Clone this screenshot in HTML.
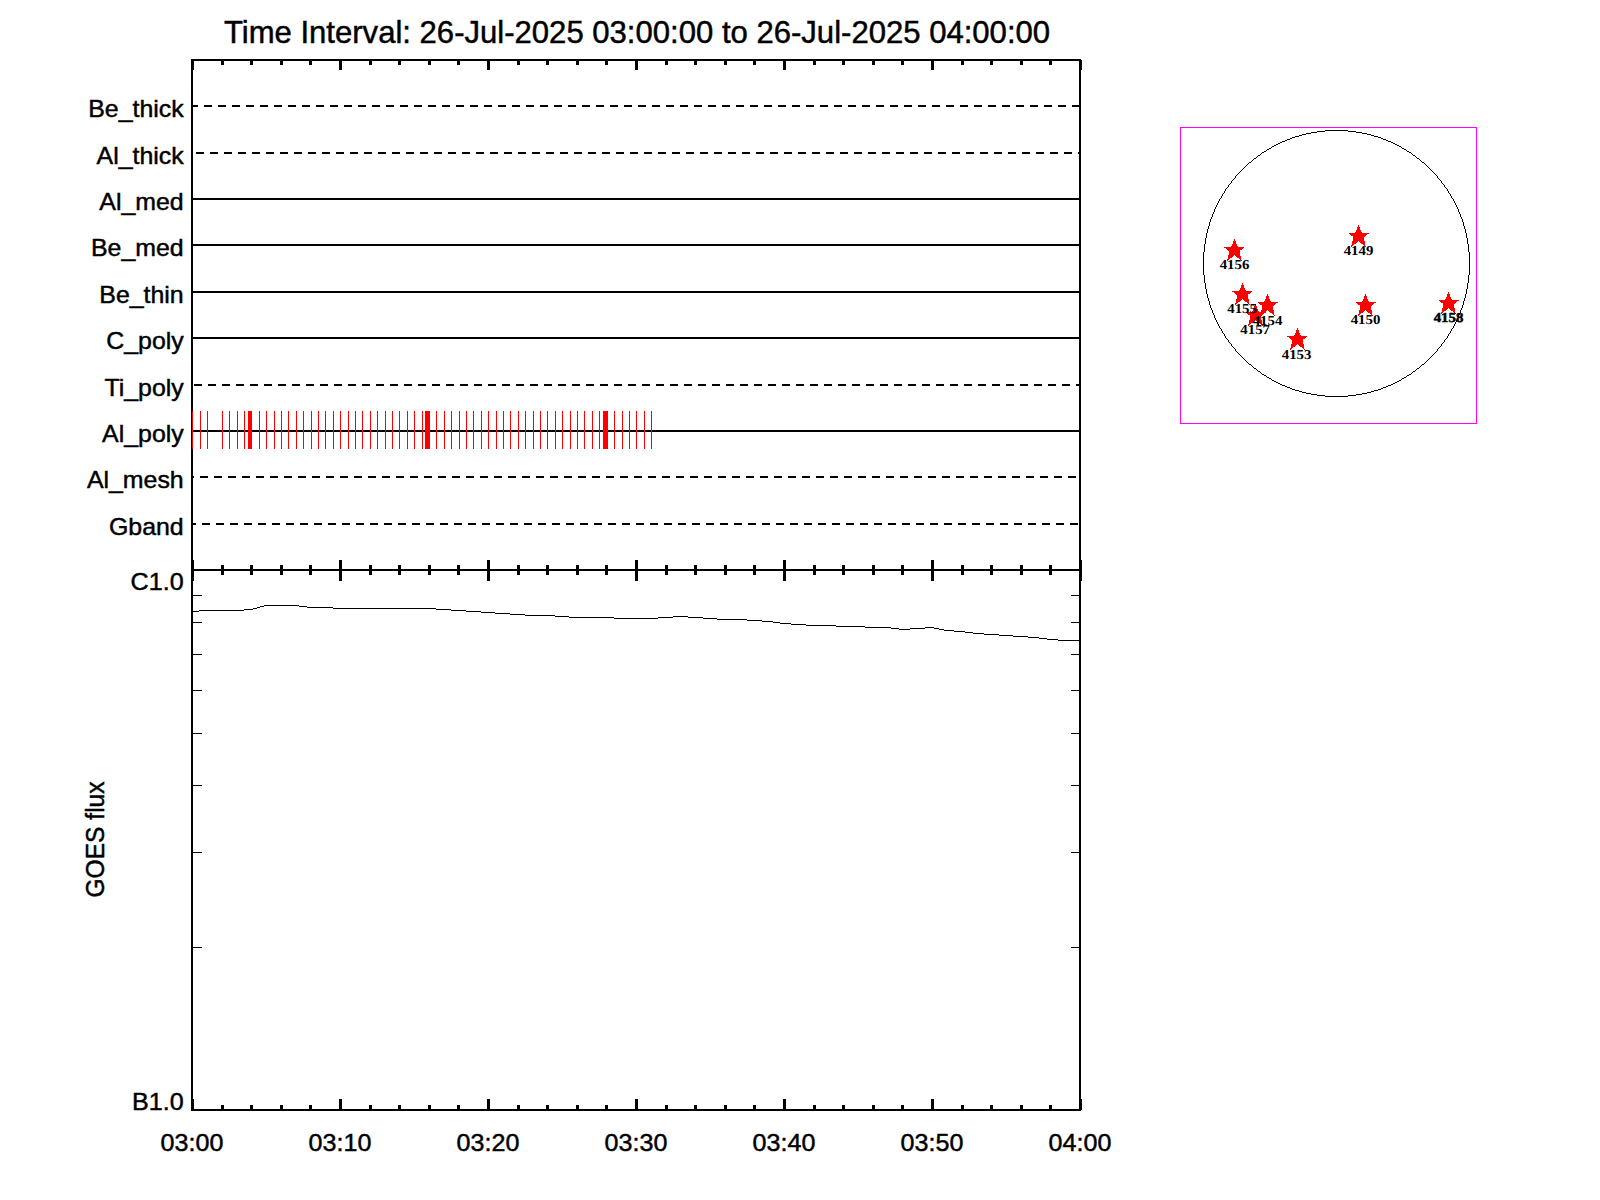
<!DOCTYPE html>
<html><head><meta charset="utf-8"><title>Time Interval</title>
<style>
html,body{margin:0;padding:0;background:#fff;}
body{width:1600px;height:1200px;overflow:hidden;}
svg{display:block;}
text{font-family:"Liberation Sans",sans-serif;fill:#000;}
.lab{font-size:23.8px;stroke:#000;stroke-width:0.45px;}
.ar{font-family:"Liberation Serif",serif;font-weight:bold;font-size:12.7px;text-rendering:geometricPrecision;}
</style></head><body>
<svg width="1600" height="1200" viewBox="0 0 1600 1200">
<rect width="1600" height="1200" fill="#fff"/>
<text transform="translate(637,43) scale(1.019,1)" text-anchor="middle" font-size="30.5" stroke="#000" stroke-width="0.45">Time Interval: 26-Jul-2025 03:00:00 to 26-Jul-2025 04:00:00</text>
<g shape-rendering="crispEdges" stroke="#000" stroke-width="2" fill="none">
<line x1="192" y1="106" x2="1080" y2="106" stroke-dasharray="8 6" stroke-dashoffset="2"/>
<line x1="192" y1="153" x2="1080" y2="153" stroke-dasharray="8 6" stroke-dashoffset="10"/>
<line x1="192" y1="199" x2="1080" y2="199"/>
<line x1="192" y1="245" x2="1080" y2="245"/>
<line x1="192" y1="292" x2="1080" y2="292"/>
<line x1="192" y1="338" x2="1080" y2="338"/>
<line x1="192" y1="385" x2="1080" y2="385" stroke-dasharray="8 6" stroke-dashoffset="12"/>
<line x1="192" y1="431" x2="1080" y2="431"/>
<line x1="192" y1="477" x2="1080" y2="477" stroke-dasharray="8 6" stroke-dashoffset="6"/>
<line x1="192" y1="524" x2="1080" y2="524" stroke-dasharray="8 6" stroke-dashoffset="4"/>
<rect x="192" y="60" width="888" height="510"/>
<rect x="192" y="570" width="888" height="540"/>
<path stroke-width="3" d="M192.5 60V70M192.5 560V581M192.5 1110V1099M222.5 60V65M222.5 565V575M222.5 1110V1105M251.5 60V65M251.5 565V575M251.5 1110V1105M281.5 60V65M281.5 565V575M281.5 1110V1105M310.5 60V65M310.5 565V575M310.5 1110V1105M340.5 60V70M340.5 560V581M340.5 1110V1099M370.5 60V65M370.5 565V575M370.5 1110V1105M399.5 60V65M399.5 565V575M399.5 1110V1105M429.5 60V65M429.5 565V575M429.5 1110V1105M458.5 60V65M458.5 565V575M458.5 1110V1105M488.5 60V70M488.5 560V581M488.5 1110V1099M518.5 60V65M518.5 565V575M518.5 1110V1105M547.5 60V65M547.5 565V575M547.5 1110V1105M577.5 60V65M577.5 565V575M577.5 1110V1105M606.5 60V65M606.5 565V575M606.5 1110V1105M636.5 60V70M636.5 560V581M636.5 1110V1099M666.5 60V65M666.5 565V575M666.5 1110V1105M695.5 60V65M695.5 565V575M695.5 1110V1105M725.5 60V65M725.5 565V575M725.5 1110V1105M754.5 60V65M754.5 565V575M754.5 1110V1105M784.5 60V70M784.5 560V581M784.5 1110V1099M814.5 60V65M814.5 565V575M814.5 1110V1105M843.5 60V65M843.5 565V575M843.5 1110V1105M873.5 60V65M873.5 565V575M873.5 1110V1105M902.5 60V65M902.5 565V575M902.5 1110V1105M932.5 60V70M932.5 560V581M932.5 1110V1099M962.5 60V65M962.5 565V575M962.5 1110V1105M991.5 60V65M991.5 565V575M991.5 1110V1105M1021.5 60V65M1021.5 565V575M1021.5 1110V1105M1050.5 60V65M1050.5 565V575M1050.5 1110V1105M1080.5 60V70M1080.5 560V581M1080.5 1110V1099"/>
</g>
<path shape-rendering="crispEdges" stroke="#000" stroke-width="1" fill="none" d="M193 947.5H202M1071 947.5H1079M193 852.5H202M1071 852.5H1079M193 785.5H202M1071 785.5H1079M193 733.5H202M1071 733.5H1079M193 690.5H202M1071 690.5H1079M193 654.5H202M1071 654.5H1079M193 622.5H202M1071 622.5H1079M193 595.5H202M1071 595.5H1079"/>
<path shape-rendering="crispEdges" fill="#000" d="M193 611h6v1h-6zM199 610h45v1h-45zM244 609h9v1h-9zM253 608h4v1h-4zM257 607h3v1h-3zM260 606h4v1h-4zM264 605h35v1h-35zM299 606h8v1h-8zM307 607h26v1h-26zM333 608h103v1h-103zM436 609h15v1h-15zM451 610h15v1h-15zM466 611h15v1h-15zM481 612h14v1h-14zM495 613h15v1h-15zM510 614h15v1h-15zM525 615h30v1h-30zM555 616h14v1h-14zM569 617h45v1h-45zM614 618h44v1h-44zM658 617h15v1h-15zM673 616h15v1h-15zM688 617h15v1h-15zM703 618h14v1h-14zM717 619h30v1h-30zM747 620h15v1h-15zM762 621h11v1h-11zM773 622h7v1h-7zM780 623h11v1h-11zM791 624h15v1h-15zM806 625h30v1h-30zM836 626h29v1h-29zM865 627h26v1h-26zM891 628h8v1h-8zM899 629h11v1h-11zM910 628h15v1h-15zM925 627h9v1h-9zM934 628h5v1h-5zM939 629h5v1h-5zM944 630h10v1h-10zM954 631h11v1h-11zM965 632h8v1h-8zM973 633h11v1h-11zM984 634h15v1h-15zM999 635h14v1h-14zM1013 636h15v1h-15zM1028 637h11v1h-11zM1039 638h8v1h-8zM1047 639h11v1h-11zM1058 640h21v1h-21z"/>
<path shape-rendering="crispEdges" stroke="#f00" stroke-width="1" fill="none" d="M192.5 411V449M200.5 411V449M207.5 411V449M222.5 411V449M229.5 411V449M237.5 411V449M244.5 411V449M259.5 411V449M266.5 411V449M274.5 411V449M281.5 411V449M288.5 411V449M296.5 411V449M303.5 411V449M311.5 411V449M318.5 411V449M325.5 411V449M333.5 411V449M340.5 411V449M348.5 411V449M355.5 411V449M362.5 411V449M370.5 411V449M377.5 411V449M385.5 411V449M392.5 411V449M399.5 411V449M407.5 411V449M414.5 411V449M422.5 411V449M436.5 411V449M444.5 411V449M451.5 411V449M459.5 411V449M466.5 411V449M473.5 411V449M481.5 411V449M488.5 411V449M496.5 411V449M503.5 411V449M510.5 411V449M518.5 411V449M525.5 411V449M533.5 411V449M540.5 411V449M547.5 411V449M555.5 411V449M562.5 411V449M570.5 411V449M577.5 411V449M584.5 411V449M592.5 411V449M599.5 411V449M614.5 411V449M622.5 411V449M629.5 411V449M636.5 411V449M644.5 411V449M651.5 411V449"/>
<rect shape-rendering="crispEdges" x="248" y="411" width="4" height="38" fill="#f00"/>
<rect shape-rendering="crispEdges" x="425" y="411" width="5" height="38" fill="#f00"/>
<rect shape-rendering="crispEdges" x="603" y="411" width="5" height="38" fill="#f00"/>
<text class="lab" transform="translate(183.7,116.7) scale(1.046,1)" text-anchor="end">Be_thick</text>
<text class="lab" transform="translate(183.7,163.7) scale(1.046,1)" text-anchor="end">Al_thick</text>
<text class="lab" transform="translate(183.7,209.7) scale(1.046,1)" text-anchor="end">Al_med</text>
<text class="lab" transform="translate(183.7,255.7) scale(1.046,1)" text-anchor="end">Be_med</text>
<text class="lab" transform="translate(183.7,302.7) scale(1.046,1)" text-anchor="end">Be_thin</text>
<text class="lab" transform="translate(183.7,348.7) scale(1.046,1)" text-anchor="end">C_poly</text>
<text class="lab" transform="translate(183.7,395.7) scale(1.046,1)" text-anchor="end">Ti_poly</text>
<text class="lab" transform="translate(183.7,441.7) scale(1.046,1)" text-anchor="end">Al_poly</text>
<text class="lab" transform="translate(183.7,487.7) scale(1.046,1)" text-anchor="end">Al_mesh</text>
<text class="lab" transform="translate(183.7,534.7) scale(1.046,1)" text-anchor="end">Gband</text>
<text class="lab" transform="translate(183.6,589.7) scale(1.055,1)" text-anchor="end">C1.0</text>
<text class="lab" transform="translate(183.6,1110.3) scale(1.055,1)" text-anchor="end">B1.0</text>
<text class="lab" transform="translate(192,1150.7) scale(1.055,1)" text-anchor="middle">03:00</text>
<text class="lab" transform="translate(340,1150.7) scale(1.055,1)" text-anchor="middle">03:10</text>
<text class="lab" transform="translate(488,1150.7) scale(1.055,1)" text-anchor="middle">03:20</text>
<text class="lab" transform="translate(636,1150.7) scale(1.055,1)" text-anchor="middle">03:30</text>
<text class="lab" transform="translate(784,1150.7) scale(1.055,1)" text-anchor="middle">03:40</text>
<text class="lab" transform="translate(932,1150.7) scale(1.055,1)" text-anchor="middle">03:50</text>
<text class="lab" transform="translate(1080,1150.7) scale(1.055,1)" text-anchor="middle">04:00</text>
<text class="lab" transform="translate(103.8,839.5) rotate(-90) scale(1.033,1.09)" text-anchor="middle">GOES flux</text>
<rect shape-rendering="crispEdges" x="1180.5" y="127.5" width="296" height="296" fill="none" stroke="#f0f" stroke-width="1"/>
<path shape-rendering="crispEdges" fill="#000" d="M1325 130h23v1h-23zM1317 131h8v1h-8zM1348 131h8v1h-8zM1311 132h6v1h-6zM1356 132h6v1h-6zM1306 133h5v1h-5zM1362 133h5v1h-5zM1302 134h4v1h-4zM1367 134h4v1h-4zM1299 135h3v1h-3zM1371 135h3v1h-3zM1295 136h4v1h-4zM1374 136h4v1h-4zM1292 137h3v1h-3zM1378 137h3v1h-3zM1290 138h2v1h-2zM1381 138h2v1h-2zM1287 139h3v1h-3zM1383 139h3v1h-3zM1285 140h2v1h-2zM1386 140h2v1h-2zM1282 141h3v1h-3zM1388 141h3v1h-3zM1280 142h2v1h-2zM1391 142h2v1h-2zM1278 143h2v1h-2zM1393 143h2v1h-2zM1276 144h2v1h-2zM1395 144h2v1h-2zM1274 145h2v1h-2zM1397 145h2v1h-2zM1272 146h2v1h-2zM1399 146h2v1h-2zM1271 147h1v1h-1zM1401 147h1v1h-1zM1269 148h2v1h-2zM1402 148h2v1h-2zM1267 149h2v1h-2zM1404 149h2v1h-2zM1266 150h1v1h-1zM1406 150h1v1h-1zM1264 151h2v1h-2zM1407 151h2v1h-2zM1262 152h2v1h-2zM1409 152h2v1h-2zM1261 153h1v1h-1zM1411 153h1v1h-1zM1260 154h1v1h-1zM1412 154h1v1h-1zM1258 155h2v1h-2zM1413 155h2v1h-2zM1257 156h1v1h-1zM1415 156h1v1h-1zM1256 157h1v1h-1zM1416 157h1v1h-1zM1254 158h2v1h-2zM1417 158h2v1h-2zM1253 159h1v1h-1zM1419 159h1v1h-1zM1252 160h1v1h-1zM1420 160h1v1h-1zM1251 161h1v1h-1zM1421 161h1v1h-1zM1249 162h2v1h-2zM1422 162h2v1h-2zM1248 163h1v1h-1zM1424 163h1v1h-1zM1247 164h1v1h-1zM1425 164h1v1h-1zM1246 165h1v1h-1zM1426 165h1v1h-1zM1245 166h1v1h-1zM1427 166h1v1h-1zM1244 167h1v1h-1zM1428 167h1v1h-1zM1243 168h1v1h-1zM1429 168h1v1h-1zM1242 169h1v1h-1zM1430 169h1v1h-1zM1241 170h1v1h-1zM1431 170h1v1h-1zM1240 171h1v1h-1zM1432 171h1v1h-1zM1239 172h1v1h-1zM1433 172h1v1h-1zM1238 173h1v1h-1zM1434 173h1v1h-1zM1237 174h1v1h-1zM1435 174h1v1h-1zM1236 175h1v1h-1zM1436 175h1v1h-1zM1235 176h1v1h-1zM1437 176h1v1h-1zM1235 177h1v1h-1zM1437 177h1v1h-1zM1234 178h1v1h-1zM1438 178h1v1h-1zM1233 179h1v1h-1zM1439 179h1v1h-1zM1232 180h1v1h-1zM1440 180h1v1h-1zM1231 181h1v1h-1zM1441 181h1v1h-1zM1231 182h1v1h-1zM1441 182h1v1h-1zM1230 183h1v1h-1zM1442 183h1v1h-1zM1229 184h1v1h-1zM1443 184h1v1h-1zM1228 185h1v1h-1zM1444 185h1v1h-1zM1228 186h1v1h-1zM1444 186h1v1h-1zM1227 187h1v1h-1zM1445 187h1v1h-1zM1226 188h1v1h-1zM1446 188h1v1h-1zM1225 189h1v1h-1zM1447 189h1v1h-1zM1225 190h1v1h-1zM1447 190h1v1h-1zM1224 191h1v1h-1zM1448 191h1v1h-1zM1224 192h1v1h-1zM1448 192h1v1h-1zM1223 193h1v1h-1zM1449 193h1v1h-1zM1222 194h1v1h-1zM1450 194h1v1h-1zM1222 195h1v1h-1zM1450 195h1v1h-1zM1221 196h1v1h-1zM1451 196h1v1h-1zM1221 197h1v1h-1zM1451 197h1v1h-1zM1220 198h1v1h-1zM1452 198h1v1h-1zM1219 199h1v1h-1zM1453 199h1v1h-1zM1219 200h1v1h-1zM1453 200h1v1h-1zM1218 201h1v1h-1zM1454 201h1v1h-1zM1218 202h1v1h-1zM1454 202h1v1h-1zM1217 203h1v1h-1zM1455 203h1v1h-1zM1217 204h1v1h-1zM1455 204h1v1h-1zM1216 205h1v1h-1zM1456 205h1v1h-1zM1216 206h1v1h-1zM1456 206h1v1h-1zM1215 207h1v1h-1zM1457 207h1v1h-1zM1215 208h1v1h-1zM1457 208h1v1h-1zM1214 209h1v1h-1zM1458 209h1v1h-1zM1214 210h1v1h-1zM1458 210h1v1h-1zM1214 211h1v1h-1zM1458 211h1v1h-1zM1213 212h1v1h-1zM1459 212h1v1h-1zM1213 213h1v1h-1zM1459 213h1v1h-1zM1212 214h1v1h-1zM1460 214h1v1h-1zM1212 215h1v1h-1zM1460 215h1v1h-1zM1212 216h1v1h-1zM1460 216h1v1h-1zM1211 217h1v1h-1zM1461 217h1v1h-1zM1211 218h1v1h-1zM1461 218h1v1h-1zM1210 219h1v1h-1zM1462 219h1v1h-1zM1210 220h1v1h-1zM1462 220h1v1h-1zM1210 221h1v1h-1zM1462 221h1v1h-1zM1209 222h1v1h-1zM1463 222h1v1h-1zM1209 223h1v1h-1zM1463 223h1v1h-1zM1209 224h1v1h-1zM1463 224h1v1h-1zM1209 225h1v1h-1zM1463 225h1v1h-1zM1208 226h1v1h-1zM1464 226h1v1h-1zM1208 227h1v1h-1zM1464 227h1v1h-1zM1208 228h1v1h-1zM1464 228h1v1h-1zM1207 229h1v1h-1zM1465 229h1v1h-1zM1207 230h1v1h-1zM1465 230h1v1h-1zM1207 231h1v1h-1zM1465 231h1v1h-1zM1207 232h1v1h-1zM1465 232h1v1h-1zM1206 233h1v1h-1zM1466 233h1v1h-1zM1206 234h1v1h-1zM1466 234h1v1h-1zM1206 235h1v1h-1zM1466 235h1v1h-1zM1206 236h1v1h-1zM1466 236h1v1h-1zM1206 237h1v1h-1zM1466 237h1v1h-1zM1205 238h1v1h-1zM1467 238h1v1h-1zM1205 239h1v1h-1zM1467 239h1v1h-1zM1205 240h1v1h-1zM1467 240h1v1h-1zM1205 241h1v1h-1zM1467 241h1v1h-1zM1205 242h1v1h-1zM1467 242h1v1h-1zM1205 243h1v1h-1zM1467 243h1v1h-1zM1204 244h1v1h-1zM1468 244h1v1h-1zM1204 245h1v1h-1zM1468 245h1v1h-1zM1204 246h1v1h-1zM1468 246h1v1h-1zM1204 247h1v1h-1zM1468 247h1v1h-1zM1204 248h1v1h-1zM1468 248h1v1h-1zM1204 249h1v1h-1zM1468 249h1v1h-1zM1204 250h1v1h-1zM1468 250h1v1h-1zM1204 251h1v1h-1zM1468 251h1v1h-1zM1203 252h1v1h-1zM1469 252h1v1h-1zM1203 253h1v1h-1zM1469 253h1v1h-1zM1203 254h1v1h-1zM1469 254h1v1h-1zM1203 255h1v1h-1zM1469 255h1v1h-1zM1203 256h1v1h-1zM1469 256h1v1h-1zM1203 257h1v1h-1zM1469 257h1v1h-1zM1203 258h1v1h-1zM1469 258h1v1h-1zM1203 259h1v1h-1zM1469 259h1v1h-1zM1203 260h1v1h-1zM1469 260h1v1h-1zM1203 261h1v1h-1zM1469 261h1v1h-1zM1203 262h1v1h-1zM1469 262h1v1h-1zM1203 263h1v1h-1zM1469 263h1v1h-1zM1203 264h1v1h-1zM1469 264h1v1h-1zM1203 265h1v1h-1zM1469 265h1v1h-1zM1203 266h1v1h-1zM1469 266h1v1h-1zM1203 267h1v1h-1zM1469 267h1v1h-1zM1203 268h1v1h-1zM1469 268h1v1h-1zM1203 269h1v1h-1zM1469 269h1v1h-1zM1203 270h1v1h-1zM1469 270h1v1h-1zM1203 271h1v1h-1zM1469 271h1v1h-1zM1203 272h1v1h-1zM1469 272h1v1h-1zM1203 273h1v1h-1zM1469 273h1v1h-1zM1203 274h1v1h-1zM1469 274h1v1h-1zM1204 275h1v1h-1zM1468 275h1v1h-1zM1204 276h1v1h-1zM1468 276h1v1h-1zM1204 277h1v1h-1zM1468 277h1v1h-1zM1204 278h1v1h-1zM1468 278h1v1h-1zM1204 279h1v1h-1zM1468 279h1v1h-1zM1204 280h1v1h-1zM1468 280h1v1h-1zM1204 281h1v1h-1zM1468 281h1v1h-1zM1204 282h1v1h-1zM1468 282h1v1h-1zM1205 283h1v1h-1zM1467 283h1v1h-1zM1205 284h1v1h-1zM1467 284h1v1h-1zM1205 285h1v1h-1zM1467 285h1v1h-1zM1205 286h1v1h-1zM1467 286h1v1h-1zM1205 287h1v1h-1zM1467 287h1v1h-1zM1205 288h1v1h-1zM1467 288h1v1h-1zM1206 289h1v1h-1zM1466 289h1v1h-1zM1206 290h1v1h-1zM1466 290h1v1h-1zM1206 291h1v1h-1zM1466 291h1v1h-1zM1206 292h1v1h-1zM1466 292h1v1h-1zM1206 293h1v1h-1zM1466 293h1v1h-1zM1207 294h1v1h-1zM1465 294h1v1h-1zM1207 295h1v1h-1zM1465 295h1v1h-1zM1207 296h1v1h-1zM1465 296h1v1h-1zM1207 297h1v1h-1zM1465 297h1v1h-1zM1208 298h1v1h-1zM1464 298h1v1h-1zM1208 299h1v1h-1zM1464 299h1v1h-1zM1208 300h1v1h-1zM1464 300h1v1h-1zM1209 301h1v1h-1zM1463 301h1v1h-1zM1209 302h1v1h-1zM1463 302h1v1h-1zM1209 303h1v1h-1zM1463 303h1v1h-1zM1209 304h1v1h-1zM1463 304h1v1h-1zM1210 305h1v1h-1zM1462 305h1v1h-1zM1210 306h1v1h-1zM1462 306h1v1h-1zM1210 307h1v1h-1zM1462 307h1v1h-1zM1211 308h1v1h-1zM1461 308h1v1h-1zM1211 309h1v1h-1zM1461 309h1v1h-1zM1212 310h1v1h-1zM1460 310h1v1h-1zM1212 311h1v1h-1zM1460 311h1v1h-1zM1212 312h1v1h-1zM1460 312h1v1h-1zM1213 313h1v1h-1zM1459 313h1v1h-1zM1213 314h1v1h-1zM1459 314h1v1h-1zM1214 315h1v1h-1zM1458 315h1v1h-1zM1214 316h1v1h-1zM1458 316h1v1h-1zM1214 317h1v1h-1zM1458 317h1v1h-1zM1215 318h1v1h-1zM1457 318h1v1h-1zM1215 319h1v1h-1zM1457 319h1v1h-1zM1216 320h1v1h-1zM1456 320h1v1h-1zM1216 321h1v1h-1zM1456 321h1v1h-1zM1217 322h1v1h-1zM1455 322h1v1h-1zM1217 323h1v1h-1zM1455 323h1v1h-1zM1218 324h1v1h-1zM1454 324h1v1h-1zM1218 325h1v1h-1zM1454 325h1v1h-1zM1219 326h1v1h-1zM1453 326h1v1h-1zM1219 327h1v1h-1zM1453 327h1v1h-1zM1220 328h1v1h-1zM1452 328h1v1h-1zM1221 329h1v1h-1zM1451 329h1v1h-1zM1221 330h1v1h-1zM1451 330h1v1h-1zM1222 331h1v1h-1zM1450 331h1v1h-1zM1222 332h1v1h-1zM1450 332h1v1h-1zM1223 333h1v1h-1zM1449 333h1v1h-1zM1224 334h1v1h-1zM1448 334h1v1h-1zM1224 335h1v1h-1zM1448 335h1v1h-1zM1225 336h1v1h-1zM1447 336h1v1h-1zM1225 337h1v1h-1zM1447 337h1v1h-1zM1226 338h1v1h-1zM1446 338h1v1h-1zM1227 339h1v1h-1zM1445 339h1v1h-1zM1228 340h1v1h-1zM1444 340h1v1h-1zM1228 341h1v1h-1zM1444 341h1v1h-1zM1229 342h1v1h-1zM1443 342h1v1h-1zM1230 343h1v1h-1zM1442 343h1v1h-1zM1231 344h1v1h-1zM1441 344h1v1h-1zM1231 345h1v1h-1zM1441 345h1v1h-1zM1232 346h1v1h-1zM1440 346h1v1h-1zM1233 347h1v1h-1zM1439 347h1v1h-1zM1234 348h1v1h-1zM1438 348h1v1h-1zM1235 349h1v1h-1zM1437 349h1v1h-1zM1235 350h1v1h-1zM1437 350h1v1h-1zM1236 351h1v1h-1zM1436 351h1v1h-1zM1237 352h1v1h-1zM1435 352h1v1h-1zM1238 353h1v1h-1zM1434 353h1v1h-1zM1239 354h1v1h-1zM1433 354h1v1h-1zM1240 355h1v1h-1zM1432 355h1v1h-1zM1241 356h1v1h-1zM1431 356h1v1h-1zM1242 357h1v1h-1zM1430 357h1v1h-1zM1243 358h1v1h-1zM1429 358h1v1h-1zM1244 359h1v1h-1zM1428 359h1v1h-1zM1245 360h1v1h-1zM1427 360h1v1h-1zM1246 361h1v1h-1zM1426 361h1v1h-1zM1247 362h1v1h-1zM1425 362h1v1h-1zM1248 363h1v1h-1zM1424 363h1v1h-1zM1249 364h2v1h-2zM1422 364h2v1h-2zM1251 365h1v1h-1zM1421 365h1v1h-1zM1252 366h1v1h-1zM1420 366h1v1h-1zM1253 367h1v1h-1zM1419 367h1v1h-1zM1254 368h2v1h-2zM1417 368h2v1h-2zM1256 369h1v1h-1zM1416 369h1v1h-1zM1257 370h1v1h-1zM1415 370h1v1h-1zM1258 371h2v1h-2zM1413 371h2v1h-2zM1260 372h1v1h-1zM1412 372h1v1h-1zM1261 373h1v1h-1zM1411 373h1v1h-1zM1262 374h2v1h-2zM1409 374h2v1h-2zM1264 375h2v1h-2zM1407 375h2v1h-2zM1266 376h1v1h-1zM1406 376h1v1h-1zM1267 377h2v1h-2zM1404 377h2v1h-2zM1269 378h2v1h-2zM1402 378h2v1h-2zM1271 379h1v1h-1zM1401 379h1v1h-1zM1272 380h2v1h-2zM1399 380h2v1h-2zM1274 381h2v1h-2zM1397 381h2v1h-2zM1276 382h2v1h-2zM1395 382h2v1h-2zM1278 383h2v1h-2zM1393 383h2v1h-2zM1280 384h2v1h-2zM1391 384h2v1h-2zM1282 385h3v1h-3zM1388 385h3v1h-3zM1285 386h2v1h-2zM1386 386h2v1h-2zM1287 387h3v1h-3zM1383 387h3v1h-3zM1290 388h2v1h-2zM1381 388h2v1h-2zM1292 389h3v1h-3zM1378 389h3v1h-3zM1295 390h4v1h-4zM1374 390h4v1h-4zM1299 391h3v1h-3zM1371 391h3v1h-3zM1302 392h4v1h-4zM1367 392h4v1h-4zM1306 393h5v1h-5zM1362 393h5v1h-5zM1311 394h6v1h-6zM1356 394h6v1h-6zM1317 395h8v1h-8zM1348 395h8v1h-8zM1325 396h23v1h-23z"/>
<polygon shape-rendering="crispEdges" transform="translate(1255.5,316)" points="0,-12.2 3.4,-4 10.5,-3.8 5,0.4 7.4,10.1 0,4.1 -7.4,10.1 -5,0.4 -9.5,-3.8 -3.4,-4" fill="#f00"/>
<polygon shape-rendering="crispEdges" transform="translate(1234.5,251)" points="0,-12.2 3.4,-4 9.5,-3.8 5,0.4 7.4,10.1 0,4.1 -7.4,10.1 -5,0.4 -10.5,-3.8 -3.4,-4" fill="#f00"/>
<polygon shape-rendering="crispEdges" transform="translate(1242.5,295)" points="0,-12.2 3.4,-4 9.5,-3.8 5,0.4 7.4,10.1 0,4.1 -7.4,10.1 -5,0.4 -10.5,-3.8 -3.4,-4" fill="#f00"/>
<polygon shape-rendering="crispEdges" transform="translate(1267.5,306)" points="0,-12.2 3.4,-4 10.5,-3.8 5,0.4 7.4,10.1 0,4.1 -7.4,10.1 -5,0.4 -9.5,-3.8 -3.4,-4" fill="#f00"/>
<polygon shape-rendering="crispEdges" transform="translate(1297.5,340)" points="0,-12.2 3.4,-4 9.5,-3.8 5,0.4 7.4,10.1 0,4.1 -7.4,10.1 -5,0.4 -10.5,-3.8 -3.4,-4" fill="#f00"/>
<polygon shape-rendering="crispEdges" transform="translate(1358.5,237)" points="0,-12.2 3.4,-4 10.5,-3.8 5,0.4 7.4,10.1 0,4.1 -7.4,10.1 -5,0.4 -9.5,-3.8 -3.4,-4" fill="#f00"/>
<polygon shape-rendering="crispEdges" transform="translate(1365.5,306)" points="0,-12.2 3.4,-4 10.5,-3.8 5,0.4 7.4,10.1 0,4.1 -7.4,10.1 -5,0.4 -9.5,-3.8 -3.4,-4" fill="#f00"/>
<polygon shape-rendering="crispEdges" transform="translate(1448.5,304)" points="0,-12.2 3.4,-4 10.5,-3.8 5,0.4 7.4,10.1 0,4.1 -7.4,10.1 -5,0.4 -9.5,-3.8 -3.4,-4" fill="#f00"/>
<text class="ar" transform="translate(1255.2,334) scale(1.17,1.075)" text-anchor="middle">4157</text>
<text class="ar" transform="translate(1234.5,269) scale(1.17,1.075)" text-anchor="middle">4156</text>
<text class="ar" transform="translate(1242.05,313) scale(1.17,1.075)" text-anchor="middle">4155</text>
<text class="ar" transform="translate(1267.5,325) scale(1.17,1.075)" text-anchor="middle">4154</text>
<text class="ar" transform="translate(1296.6,359) scale(1.17,1.075)" text-anchor="middle">4153</text>
<text class="ar" transform="translate(1358.5,255) scale(1.17,1.075)" text-anchor="middle">4149</text>
<text class="ar" transform="translate(1365.5,324) scale(1.17,1.075)" text-anchor="middle">4150</text>
<text class="ar" stroke="#000" stroke-width="0.45" transform="translate(1448.5,322) scale(1.17,1.075)" text-anchor="middle">4158</text>
</svg>
</body></html>
